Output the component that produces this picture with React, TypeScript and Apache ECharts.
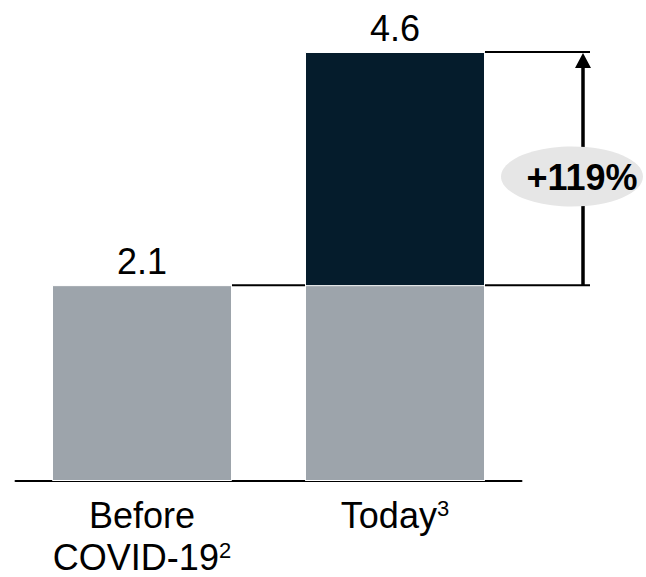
import React, { useEffect, useRef } from 'react';
import * as echarts from 'echarts';

// Categories and their axis labels (with footnote superscripts)
const categories = ['Before COVID-19', 'Today'];
const categoryLabels = ['{t|Before}\n{t|COVID-19}{s|2}', '{t|Today}{s|3}'];

// Pre-pandemic level (grey part of each bar) and the total level per period
const preCovidLevel = [2.1, 2.1];
const totalLevel = [2.1, 4.6];

// Change badge text
const changeText = '+119%';

const GREY = '#9DA4AB';
const NAVY = '#051C2C';
const FONT = "'Liberation Sans', Arial, Helvetica, sans-serif";
const BAR_WIDTH = 180;

export default function App() {
  const ref = useRef<HTMLDivElement>(null);

  useEffect(() => {
    document.body.style.margin = '0';
    const chart = echarts.init(ref.current as HTMLDivElement, null, { renderer: 'svg' });

    chart.setOption({
      animation: false,
      grid: { left: 15.5, right: 124.5, top: 52, bottom: 96 },
      xAxis: {
        type: 'category',
        data: categories,
        axisLine: { lineStyle: { color: '#000', width: 2 } },
        axisTick: { show: false },
        axisLabel: {
          interval: 0,
          margin: 13,
          formatter: (_v: string, i: number) => categoryLabels[i],
          rich: {
            t: { fontSize: 36, lineHeight: 42, fontFamily: FONT, color: '#000' },
            s: {
              fontSize: 22,
              lineHeight: 34,
              fontFamily: FONT,
              color: '#000',
              verticalAlign: 'top',
              padding: [3, 0, 0, 0],
            },
          },
        },
      },
      yAxis: { type: 'value', min: 0, max: 4.6, show: false },
      series: [
        {
          type: 'bar',
          name: 'Total',
          data: totalLevel.map((v, i) => (v > preCovidLevel[i] ? v : '-')),
          barWidth: BAR_WIDTH,
          itemStyle: { color: NAVY, borderColor: '#ffffff', borderWidth: 1 },
          label: {
            show: true,
            position: 'top',
            distance: 6,
            fontSize: 36,
            fontFamily: FONT,
            color: '#000',
            formatter: (p: any) => Number(p.value).toFixed(1),
          },
          z: 2,
        },
        {
          type: 'bar',
          name: 'Pre-COVID',
          data: preCovidLevel.map((v, i) =>
            v === totalLevel[i] ? { value: v, label: { show: true } } : v
          ),
          barWidth: BAR_WIDTH,
          barGap: '-100%',
          itemStyle: { color: GREY, borderColor: '#ffffff', borderWidth: 1 },
          label: {
            show: false,
            position: 'top',
            distance: 6,
            fontSize: 36,
            fontFamily: FONT,
            color: '#000',
            formatter: (p: any) => Number(p.value).toFixed(1),
          },
          z: 3,
        },
      ],
    });

    // Bracket, arrow and change badge placed from the axis scales
    const x0 = chart.convertToPixel({ xAxisIndex: 0 }, categories[0]) as number;
    const x1 = chart.convertToPixel({ xAxisIndex: 0 }, categories[1]) as number;
    const yBase = chart.convertToPixel({ yAxisIndex: 0 }, preCovidLevel[1]) as number;
    const yTop = chart.convertToPixel({ yAxisIndex: 0 }, totalLevel[1]) as number;
    const bar1Right = x0 + BAR_WIDTH / 2;
    const bar2Left = x1 - BAR_WIDTH / 2;
    const bar2Right = x1 + BAR_WIDTH / 2;
    const bracketEnd = bar2Right + 105;
    const arrowX = bar2Right + 98;
    const line = (xa: number, ya: number, xb: number, yb: number, w: number) => ({
      type: 'line',
      shape: { x1: xa, y1: ya, x2: xb, y2: yb },
      style: { stroke: '#000', lineWidth: w },
      z: 10,
    });

    chart.setOption({
      graphic: {
        elements: [
          line(bar1Right, yBase, bar2Left, yBase, 2),
          line(bar2Right, yBase, bracketEnd, yBase, 2),
          line(bar2Right, yTop, bracketEnd, yTop, 2),
          line(arrowX, yBase, arrowX, yTop + 14, 3.5),
          {
            type: 'polygon',
            shape: { points: [[arrowX - 8, yTop + 16], [arrowX + 8, yTop + 16], [arrowX, yTop + 1]] },
            style: { fill: '#000' },
            z: 10,
          },
          {
            type: 'ellipse',
            shape: { cx: bar2Right + 87, cy: (yBase + yTop) / 2 + 8, rx: 71, ry: 30 },
            style: { fill: '#E6E6E6' },
            z: 20,
          },
          {
            type: 'text',
            x: bar2Right + 97,
            y: (yBase + yTop) / 2 + 9,
            style: {
              text: changeText,
              font: `bold 36px ${FONT}`,
              fill: '#000',
              align: 'center',
              verticalAlign: 'middle',
            },
            z: 21,
          },
        ],
      },
    });

    return () => chart.dispose();
  }, []);

  return (
    <div
      ref={ref}
      style={{ position: 'absolute', left: 0, top: 0, width: 646, height: 577 }}
    />
  );
}
